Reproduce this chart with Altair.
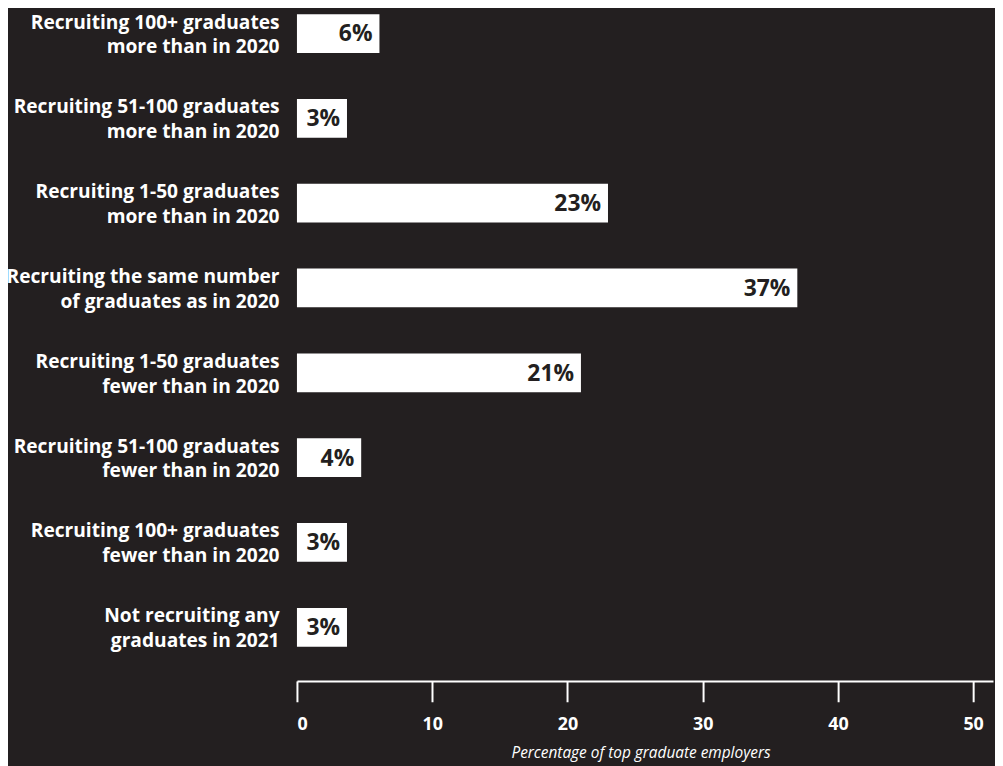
import altair as alt
import pandas as pd

categories = [
    "Recruiting 100+ graduates\nmore than in 2020",
    "Recruiting 51-100 graduates\nmore than in 2020",
    "Recruiting 1-50 graduates\nmore than in 2020",
    "Recruiting the same number\nof graduates as in 2020",
    "Recruiting 1-50 graduates\nfewer than in 2020",
    "Recruiting 51-100 graduates\nfewer than in 2020",
    "Recruiting 100+ graduates\nfewer than in 2020",
    "Not recruiting any\ngraduates in 2021",
]
# bar lengths as drawn in the picture
values = [6.1, 3.7, 23.0, 37.0, 21.0, 4.75, 3.7, 3.7]
# labels printed in the bars
labels = ["6%", "3%", "23%", "37%", "21%", "4%", "3%", "3%"]
x_ticks = [0, 10, 20, 30, 40, 50]

BG = "#231f20"
FONT = "Open Sans"

df = pd.DataFrame({"category": categories, "value": values, "label": labels})

y_enc = alt.Y(
    "category:N",
    sort=None,
    scale=alt.Scale(paddingInner=0.543, paddingOuter=0.041),
    axis=alt.Axis(
        title=None,
        ticks=False,
        domain=False,
        labelExpr="split(datum.value, '\\n')",
        labelFont=FONT,
        labelFontSize=19.3,
        labelFontWeight="bold",
        labelColor="white",
        labelPadding=18,
        labelLineHeight=25,
        labelOffset=-11,
        labelLimit=400,
        labelAlign="right",
        labelBaseline="middle",
    ),
)

x_enc = alt.X(
    "value:Q",
    scale=alt.Scale(domain=[0, 51.47], nice=False, zero=True),
    axis=alt.Axis(
        title="Percentage of top graduate employers",
        values=x_ticks,
        grid=False,
        offset=31,
        domainColor="white",
        domainWidth=2,
        tickColor="white",
        tickWidth=2,
        tickSize=21,
        labelFont=FONT,
        labelFontSize=18,
        labelFontWeight="bold",
        labelColor="white",
        labelPadding=14,
        titleFont=FONT,
        titleFontSize=15.5,
        titleFontStyle="italic",
        titleFontWeight="normal",
        titleColor="white",
        titlePadding=12,
        titleX=346,
    ),
)

bars = alt.Chart(df).mark_bar(color="white").encode(x=x_enc, y=y_enc)

texts = alt.Chart(df).mark_text(
    align="right",
    baseline="middle",
    dx=-7,
    dy=1,
    font=FONT,
    fontSize=23,
    fontWeight="bold",
    color=BG,
).encode(x="value:Q", y=alt.Y("category:N", sort=None), text="label:N")

chart = (
    alt.layer(bars, texts)
    .properties(
        width=701,
        height=644,
        background=BG,
        autosize=alt.AutoSizeParams(type="none"),
        padding={"left": 291, "right": 2, "top": 0, "bottom": 114},
    )
    .configure_view(stroke=None)
)

chart.save("out.html", embed_options={"renderer": "svg", "actions": False})
